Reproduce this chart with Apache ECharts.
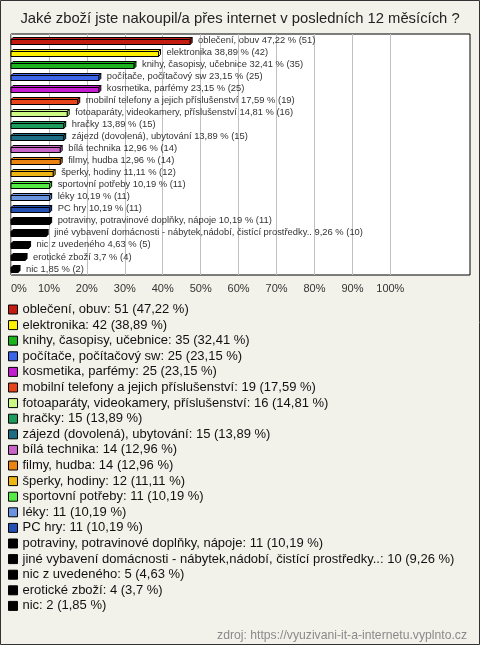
<!DOCTYPE html>
<html>
<head>
<meta charset="utf-8">
<script src="https://cdn.jsdelivr.net/npm/echarts@6/dist/echarts.min.js"></script>
<style>
html,body{margin:0;padding:0;background:#f3f2ea;}
#chart{width:480px;height:645px;}
</style>
</head>
<body>
<div id="chart"></div>
<script>
const categories = [
  'oblečení, obuv',
  'elektronika',
  'knihy, časopisy, učebnice',
  'počítače, počítačový sw',
  'kosmetika, parfémy',
  'mobilní telefony a jejich příslušenství',
  'fotoaparáty, videokamery, příslušenství',
  'hračky',
  'zájezd (dovolená), ubytování',
  'bílá technika',
  'filmy, hudba',
  'šperky, hodiny',
  'sportovní potřeby',
  'léky',
  'PC hry',
  'potraviny, potravinové doplňky, nápoje',
  'jiné vybavení domácnosti - nábytek,nádobí, čistící prostředky..',
  'nic z uvedeného',
  'erotické zboží',
  'nic'
];
const counts = [51, 42, 35, 25, 25, 19, 16, 15, 15, 14, 14, 12, 11, 11, 11, 11, 10, 5, 4, 2];
const percents = [47.22, 38.89, 32.41, 23.15, 23.15, 17.59, 14.81, 13.89, 13.89, 12.96, 12.96, 11.11, 10.19, 10.19, 10.19, 10.19, 9.26, 4.63, 3.7, 1.85];
const palette = [
  '#c41c10', '#fff000', '#1cb41c', '#3c64e8', '#c41cd0', '#e8441c',
  '#ccf884', '#1c9c5c', '#1c6c84', '#c864c8', '#ec8414', '#ecb414',
  '#54ec44', '#6894e0', '#2450b4', '#000000', '#000000', '#000000',
  '#000000', '#000000'
];
const tickValues = [0, 10, 20, 30, 40, 50, 60, 70, 80, 90, 100];

const fmt = v => String(v).replace('.', ',');
const legendText = {};
categories.forEach((c, i) => { legendText[c] = c + ': ' + counts[i] + ' (' + fmt(percents[i]) + ' %)'; });

function renderItem(params, api) {
  const v = api.value(0), c = api.value(1), idx = api.value(2);
  const p0 = api.coord([0, c]);
  const p1 = api.coord([v, c]);
  const h = 5, d = 2;
  const x0 = p0[0], x1 = p1[0];
  const y = Math.round(p0[1] - h / 2 + 1) + 0.5;
  const col = palette[idx];
  const stroke = '#000';
  return {
    type: 'group',
    children: [
      { type: 'polygon', shape: { points: [[x0, y], [x0 + d, y - d], [x1 + d, y - d], [x1, y]] }, style: { fill: col, stroke: stroke, lineWidth: 1 } },
      { type: 'polygon', shape: { points: [[x1, y], [x1 + d, y - d], [x1 + d, y - d + h], [x1, y + h]] }, style: { fill: col, stroke: stroke, lineWidth: 1 } },
      { type: 'rect', shape: { x: x0, y: y, width: x1 - x0, height: h }, style: { fill: col, stroke: stroke, lineWidth: 1 } },
      { type: 'text', style: { text: categories[idx] + ' ' + fmt(percents[idx]) + ' % (' + counts[idx] + ')', x: x1 + d + 6, y: p0[1], align: 'left', verticalAlign: 'middle', fill: '#333', fontSize: 9.4, fontFamily: 'Liberation Sans' } }
    ]
  };
}

const series = categories.map((c, i) => ({
  name: c,
  type: 'custom',
  renderItem: renderItem,
  itemStyle: { color: palette[i] },
  encode: { x: 0, y: 1 },
  data: [[percents[i], i, i]],
  animation: false
}));

const chart = echarts.init(document.getElementById('chart'), null, { renderer: 'canvas' });
chart.setOption({
  backgroundColor: '#f3f2ea',
  animation: false,
  title: [
    { text: 'Jaké zboží jste nakoupil/a přes internet v posledních 12 měsících ?', left: 'center', top: 6,
      textStyle: { fontSize: 14.8, fontWeight: 'normal', color: '#222', fontFamily: 'Liberation Sans' } },
    { text: 'zdroj: https://vyuzivani-it-a-internetu.vyplnto.cz', right: 8, top: 625,
      textStyle: { fontSize: 12.2, fontWeight: 'normal', color: '#8a8a8a', fontFamily: 'Liberation Sans' } }
  ],
  graphic: [
    { type: 'rect', shape: { x: 0.5, y: 0.5, width: 479, height: 644 }, style: { fill: 'none', stroke: '#333', lineWidth: 1 }, silent: true }
  ],
  grid: { left: 11, top: 34, width: 459, height: 241, show: true, backgroundColor: '#fff', borderColor: '#000', borderWidth: 1 },
  xAxis: {
    type: 'value', min: 0, max: 121, interval: 10,
    axisLine: { show: false }, axisTick: { show: false },
    axisLabel: { margin: 8, color: '#333', fontSize: 11, fontFamily: 'Liberation Sans', alignMinLabel: 'left',
      formatter: v => tickValues.indexOf(v) >= 0 ? v + '%' : '' },
    splitLine: { show: true, lineStyle: { width: 1, color: ['#c0c0c0','#c0c0c0','#c0c0c0','#c0c0c0','#c0c0c0','#c0c0c0','#c0c0c0','#c0c0c0','#c0c0c0','#c0c0c0','#c0c0c0','rgba(0,0,0,0)','rgba(0,0,0,0)','rgba(0,0,0,0)'] } }
  },
  yAxis: {
    type: 'category', data: categories, inverse: true,
    axisLine: { show: false }, axisTick: { show: false }, axisLabel: { show: false }, splitLine: { show: false }
  },
  legend: {
    orient: 'vertical', left: 3, top: 298, itemGap: 2.6, itemWidth: 9, itemHeight: 9, icon: 'rect',
    itemStyle: { borderColor: '#000', borderWidth: 1 },
    textStyle: { fontSize: 13, color: '#111', fontFamily: 'Liberation Sans', lineHeight: 13 },
    formatter: name => legendText[name],
    selectedMode: false,
    data: categories
  },
  series: series
});
</script>
</body>
</html>
